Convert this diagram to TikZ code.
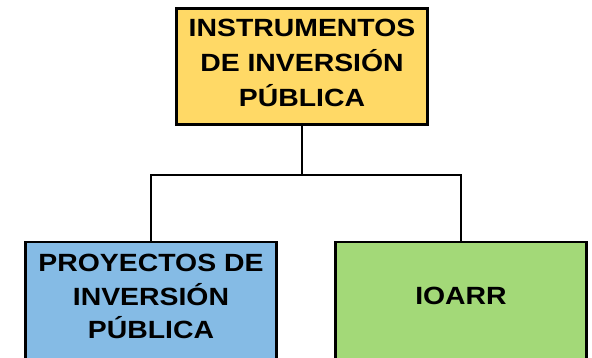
\documentclass[tikz,border=0pt]{standalone}
\usepackage{fontspec}
\setmainfont{Liberation Sans}[FakeStretch=1.14]
\definecolor{cyellow}{HTML}{FFD966}
\definecolor{cblue}{HTML}{85BBE5}
\definecolor{cgreen}{HTML}{A3D978}
\begin{document}
\begin{tikzpicture}[x=1pt,y=-1pt,
  box/.style={draw=black, line width=2.6pt, inner sep=0pt, outer sep=0pt, minimum width=251.4pt},
  lbl/.style={inner sep=0pt, align=center, text=black},
  conn/.style={draw=black, line width=2.3pt}]
\useasboundingbox (0,0) rectangle (592,358);
\fill[white] (0,0) rectangle (592,358);
\clip (0,0) rectangle (592,358);
% boxes
\node[box, fill=cyellow, minimum height=116.4pt] (top) at (302,66.5) {};
\node[box, fill=cblue, minimum height=123pt] (pip) at (151,303.5) {};
\node[box, fill=cgreen, minimum height=123pt] (ioarr) at (461,303.5) {};
% labels
\node[lbl, font=\bfseries\fontsize{24.9}{35}\selectfont] (toptext) at (302,62.9) {INSTRUMENTOS\\DE INVERSIÓN\\PÚBLICA};
\node[lbl, font=\bfseries\fontsize{24.9}{33.5}\selectfont] (piptext) at (151,296.7) {PROYECTOS DE\\INVERSIÓN\\PÚBLICA};
\node[lbl, font=\bfseries\fontsize{24.9}{33.5}\selectfont] (ioarrtext) at (461,296.3) {IOARR};
% connectors
\coordinate (bus) at (302,175);
\draw[conn] (top.south) -- (bus);
\draw[conn] (pip.north) |- (bus) -| (ioarr.north);
\end{tikzpicture}
\end{document}
